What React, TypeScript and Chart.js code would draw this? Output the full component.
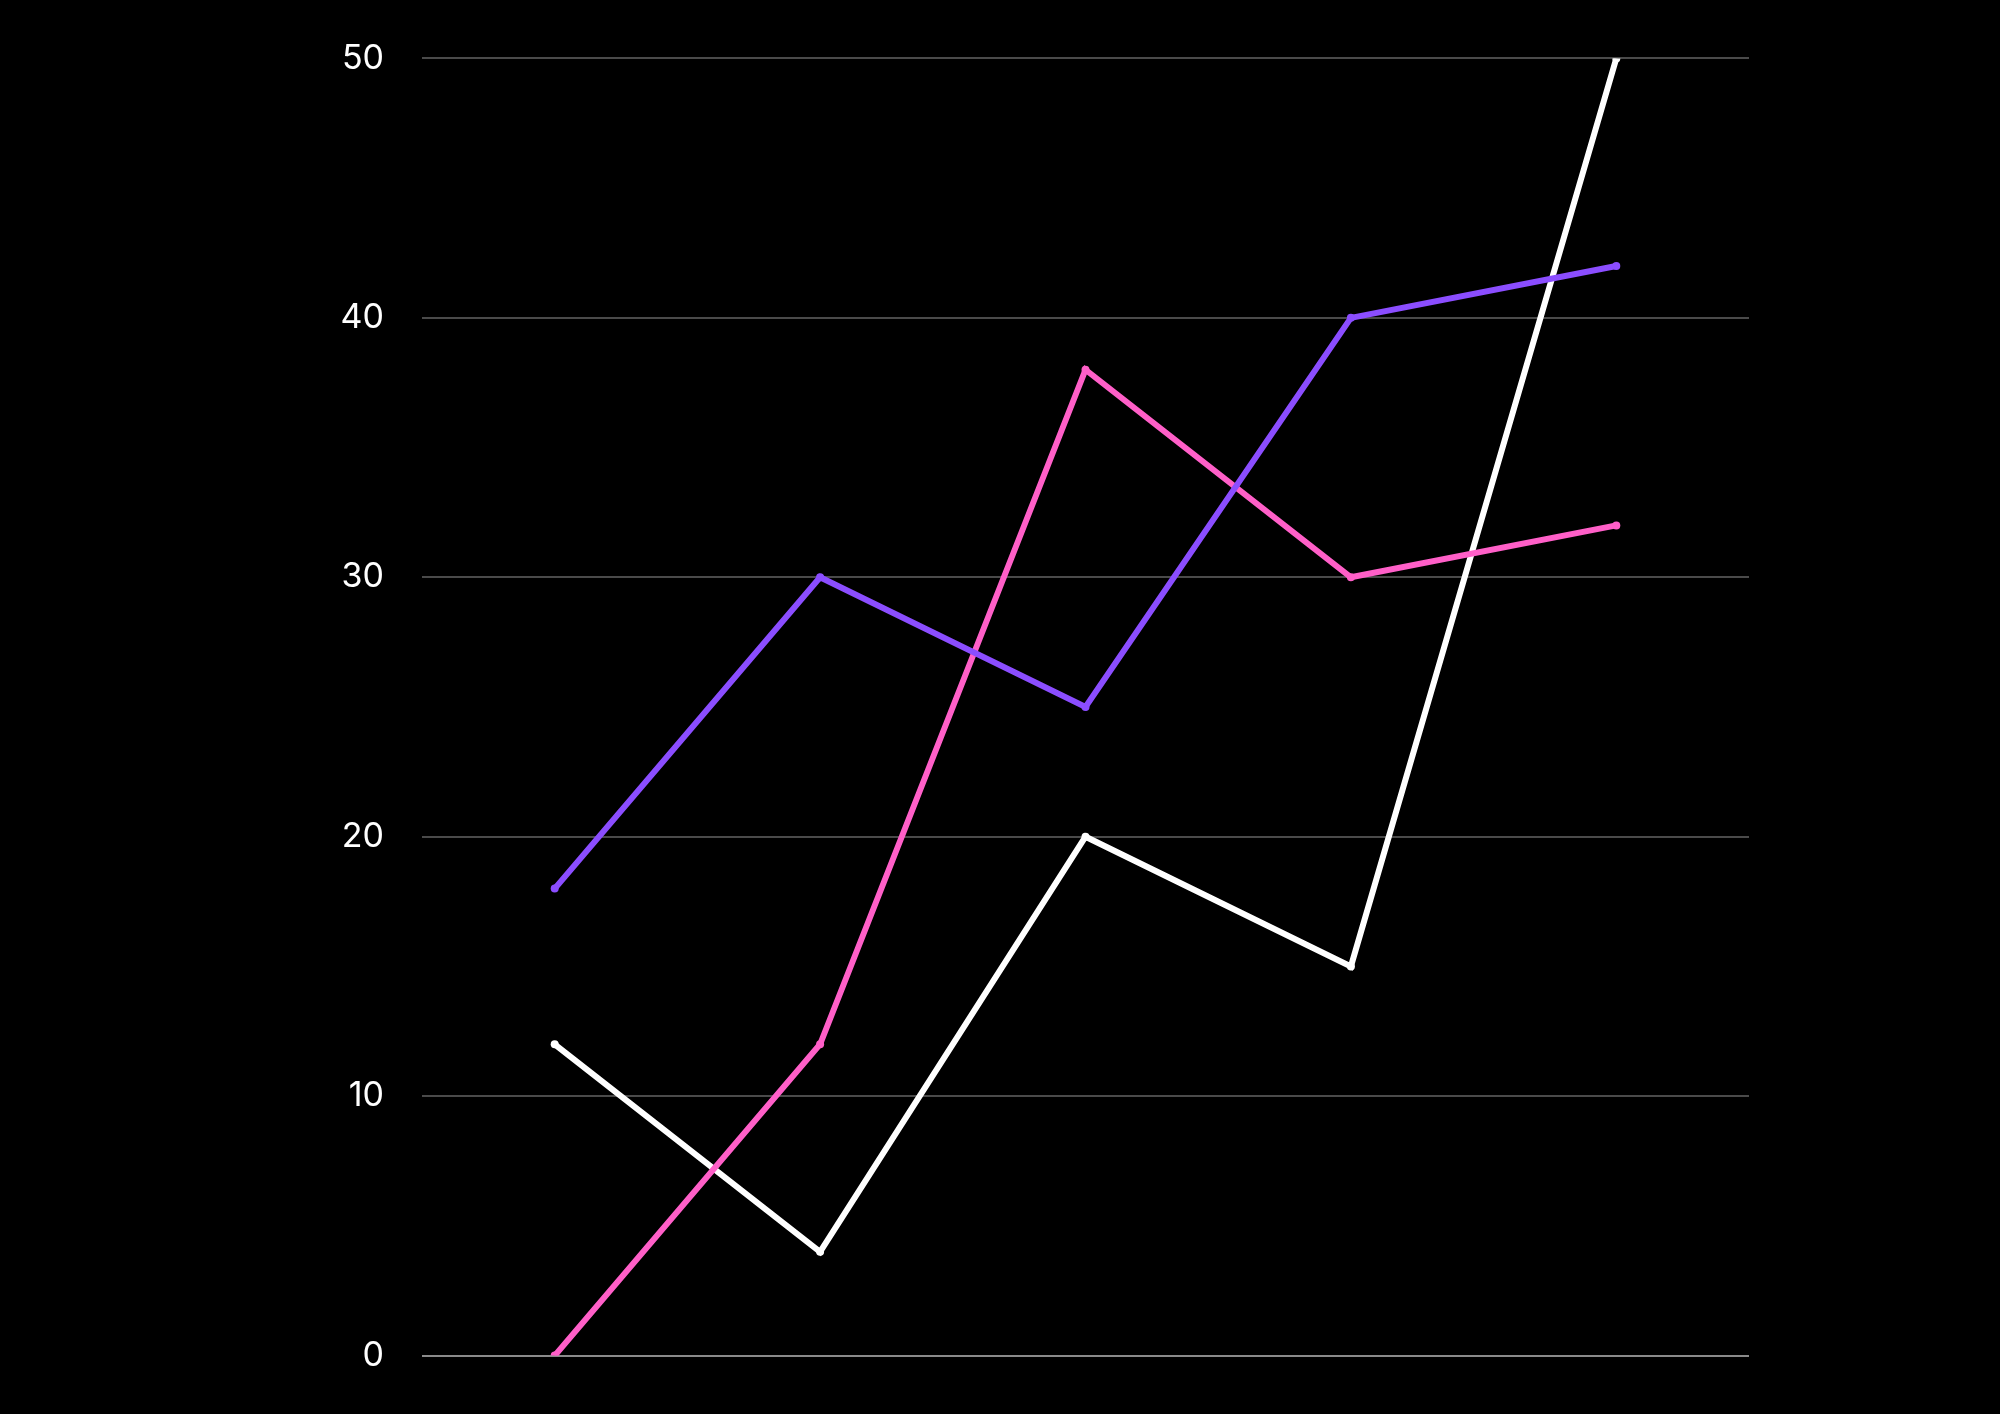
import React, { useEffect, useRef } from "react";
import Chart from "chart.js/auto";

const categories = ["A", "B", "C", "D", "E"];
const whiteSeries = [12, 4, 20, 15, 50];
const pinkSeries = [0, 12, 38, 30, 32];
const purpleSeries = [18, 30, 25, 40, 42];
const yTicks = [0, 10, 20, 30, 40, 50];

const App = () => {
  const chartRef = useRef<HTMLCanvasElement>(null);
  const chartInstance = useRef<any>(null);

  useEffect(() => {
    document.body.style.margin = "0";
    document.body.style.background = "#000";
    if (!chartRef.current) return;
    if (chartInstance.current) chartInstance.current.destroy();

    const line = (data: number[], color: string) => ({
      data,
      borderColor: color,
      backgroundColor: color,
      borderWidth: 6,
      pointRadius: 4,
      pointBorderWidth: 0,
      tension: 0,
    });

    chartInstance.current = new Chart(chartRef.current, {
      type: "line",
      data: {
        labels: categories,
        datasets: [
          line(purpleSeries, "#8b4dff"),
          line(pinkSeries, "#ff5fc8"),
          line(whiteSeries, "#ffffff"),
        ],
      },
      options: {
        responsive: false,
        animation: false,
        layout: { padding: { top: 43, bottom: 43, left: 0, right: 251 } },
        plugins: { legend: { display: false }, tooltip: { enabled: false } },
        scales: {
          x: { display: false, offset: true },
          y: {
            min: 0,
            max: 50,
            afterFit: (axis: any) => {
              axis.width = 422;
            },
            afterBuildTicks: (axis: any) => {
              axis.ticks = yTicks.map((v) => ({ value: v }));
            },
            border: { display: false },
            grid: {
              color: (ctx: any) => (ctx.tick && ctx.tick.value === 0 ? "#8a8a8a" : "#4a4a4a"),
              lineWidth: 2,
              drawTicks: false,
            },
            ticks: {
              color: "#ffffff",
              padding: 38,
              font: { family: "Inter", size: 34 },
            },
          },
        },
      },
    });

    return () => {
      if (chartInstance.current) chartInstance.current.destroy();
    };
  }, []);

  return (
    <div style={{ width: 2000, height: 1414, background: "#000" }}>
      <canvas ref={chartRef} width={2000} height={1414} />
    </div>
  );
};

export default App;
